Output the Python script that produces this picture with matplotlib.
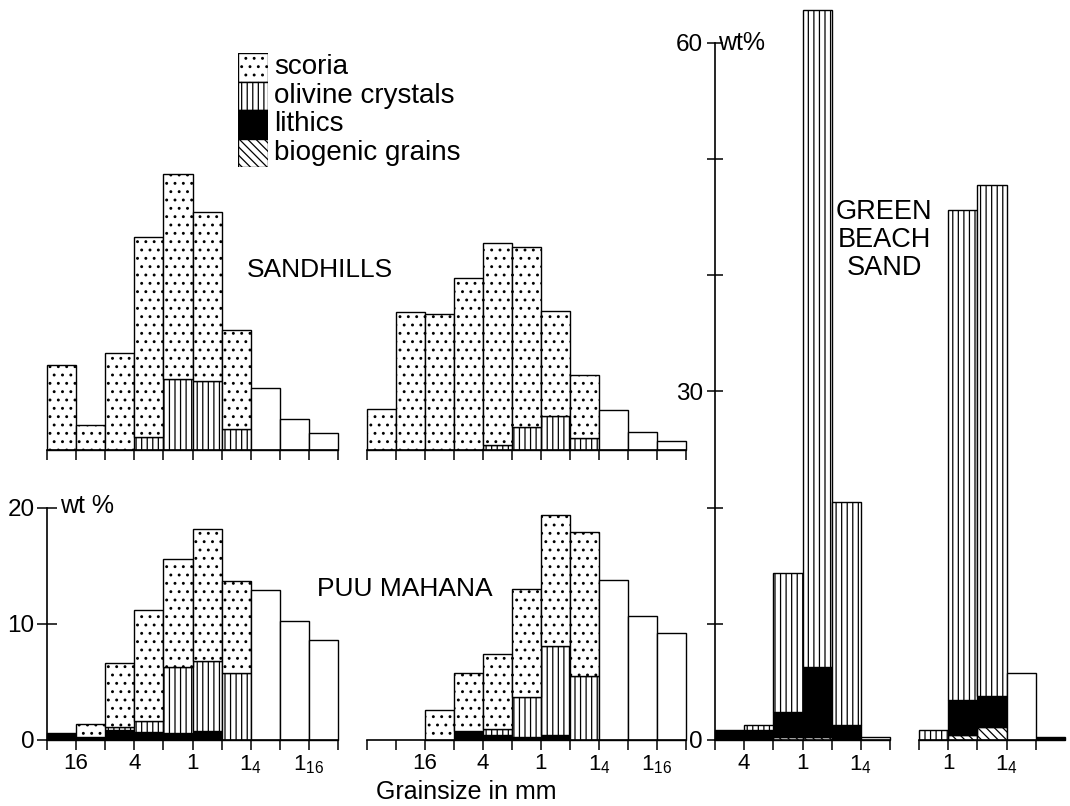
import numpy as np
import matplotlib
matplotlib.use('Agg')
import matplotlib.pyplot as plt

plt.rcParams['font.family'] = ['Liberation Sans', 'DejaVu Sans']
plt.rcParams['hatch.linewidth'] = 0.9

# each bar = one grain size class, given by phi of its coarse edge
# layers per class in wt%, bottom to top: biogenic, lithics, olivine, scoria, unsplit
sand_a_phi = [-5, -4, -3, -2, -1, 0, 1, 2, 3, 4]
sand_a_scoria = [7.3, 2.1, 8.3, 17.2, 17.6, 14.5, 8.5, 0, 0, 0]
sand_a_olivine = [0, 0, 0, 1.1, 6.1, 5.9, 1.8, 0, 0, 0]
sand_a_rest = [0, 0, 0, 0, 0, 0, 0, 5.3, 2.6, 1.4]

sand_b_phi = [-6, -5, -4, -3, -2, -1, 0, 1, 2, 3, 4]
sand_b_scoria = [3.5, 11.8, 11.7, 14.8, 17.4, 15.5, 9.0, 5.4, 0, 0, 0]
sand_b_olivine = [0, 0, 0, 0, 0.4, 1.9, 2.9, 1.0, 0, 0, 0]
sand_b_rest = [0, 0, 0, 0, 0, 0, 0, 0, 3.4, 1.5, 0.7]

puu_a_phi = [-5, -4, -3, -2, -1, 0, 1, 2, 3, 4]
puu_a_lithics = [0.6, 0.3, 0.9, 0.7, 0.6, 0.8, 0, 0, 0, 0]
puu_a_olivine = [0, 0, 0.2, 0.9, 5.7, 6.0, 5.8, 0, 0, 0]
puu_a_scoria = [0, 1.1, 5.5, 9.6, 9.3, 11.4, 7.9, 0, 0, 0]
puu_a_rest = [0, 0, 0, 0, 0, 0, 0, 12.9, 10.2, 8.6]

puu_b_phi = [-6, -5, -4, -3, -2, -1, 0, 1, 2, 3, 4]
puu_b_lithics = [0, 0, 0, 0.75, 0.45, 0.3, 0.45, 0, 0, 0, 0]
puu_b_olivine = [0, 0, 0, 0, 0.5, 3.4, 7.65, 5.5, 0, 0, 0]
puu_b_scoria = [0, 0, 2.6, 5.05, 6.45, 9.3, 11.3, 12.4, 0, 0, 0]
puu_b_rest = [0, 0, 0, 0, 0, 0, 0, 0, 13.8, 10.7, 9.2]

green_a_phi = [-3, -2, -1, 0, 1, 2]
green_a_biogenic = [0, 0, 0.3, 0.3, 0, 0]
green_a_lithics = [0.9, 0.9, 2.1, 6.0, 1.3, 0]
green_a_olivine = [0, 0.4, 12.0, 56.5, 19.2, 0]
green_a_rest = [0, 0, 0, 0, 0, 0.3]

green_b_phi = [-1, 0, 1, 2, 3]
green_b_biogenic = [0, 0.45, 1.1, 0, 0]
green_b_lithics = [0, 2.95, 2.7, 0, 0.25]
green_b_olivine = [0.9, 42.2, 44.0, 0, 0]
green_b_rest = [0, 0, 0, 5.8, 0]

legend_labels = ['scoria', 'olivine crystals', 'lithics', 'biogenic grains']

# tick labels (mm) at phi positions
tick_text = {-4: '16', -2: '4', 0: '1', 2: r'$\mathregular{1_4}$', 4: r'$\mathregular{1_{16}}$'}

W, H = 1070, 806
S = 11.62  # pixels per wt%

bio_st = dict(facecolor='white', hatch='\\\\\\\\')
lit_st = dict(facecolor='black')
oli_st = dict(facecolor='white', hatch='|||')
sco_st = dict(facecolor='white', hatch='..')
rest_st = dict(facecolor='white')

fig = plt.figure(figsize=(W / 100, H / 100), dpi=100)


def add_panel(x0, x1, base, phi0, phi1, ytop, ticks, labels=None):
    ax = fig.add_axes([x0 / W, 1 - base / H, (x1 - x0) / W, ytop * S / H])
    ax.set_xlim(phi0, phi1)
    ax.set_ylim(0, ytop)
    ax.patch.set_visible(False)
    for s in ['top', 'right', 'left']:
        ax.spines[s].set_visible(False)
    ax.spines['bottom'].set_linewidth(1.2)
    ax.set_yticks([])
    ax.set_xticks(ticks)
    if labels:
        ax.set_xticklabels([tick_text.get(t, '') if t in labels else '' for t in ticks])
    else:
        ax.set_xticklabels([])
    ax.tick_params(axis='x', direction='out', length=7, width=1.1, pad=2.5, labelsize=16)
    return ax


def draw_bars(ax, phi, layers):
    phi = np.array(phi, float)
    bottom = np.zeros(len(phi))
    for vals, st in layers:
        v = np.array(vals, float)
        m = v > 0
        if m.any():
            ax.bar(phi[m], v[m], width=1, bottom=bottom[m], align='edge',
                   edgecolor='black', linewidth=1.0, clip_on=False, **st)
        bottom += v


def y_axis(ax, top, ticks, shown, length, pad):
    ax.spines['left'].set_visible(True)
    ax.spines['left'].set_bounds(0, top)
    ax.spines['left'].set_linewidth(1.2)
    ax.set_yticks(ticks)
    ax.set_yticklabels([str(t) if t in shown else '' for t in ticks])
    ax.tick_params(axis='y', direction='inout', length=length, width=1.1, pad=pad, labelsize=17.5)


# SANDHILLS
ax = add_panel(47, 338, 449.5, -5, 5, 25, range(-5, 6))
draw_bars(ax, sand_a_phi, [(sand_a_olivine, oli_st), (sand_a_scoria, sco_st), (sand_a_rest, rest_st)])
ax = add_panel(366.7, 686, 449.5, -6, 5, 25, range(-6, 6))
draw_bars(ax, sand_b_phi, [(sand_b_olivine, oli_st), (sand_b_scoria, sco_st), (sand_b_rest, rest_st)])

# PUU MAHANA
ax = add_panel(47, 338, 740, -5, 5, 20.5, range(-5, 6), labels=[-4, -2, 0, 2, 4])
draw_bars(ax, puu_a_phi, [(puu_a_lithics, lit_st), (puu_a_olivine, oli_st),
                          (puu_a_scoria, sco_st), (puu_a_rest, rest_st)])
y_axis(ax, 20, [0, 10, 20], [0, 10, 20], 14, 2)
ax = add_panel(366.7, 686, 740, -6, 5, 20.5, range(-6, 6), labels=[-4, -2, 0, 2, 4])
draw_bars(ax, puu_b_phi, [(puu_b_lithics, lit_st), (puu_b_olivine, oli_st),
                          (puu_b_scoria, sco_st), (puu_b_rest, rest_st)])

# GREEN BEACH SAND
ax = add_panel(715, 890, 740, -3, 3, 63.5, range(-3, 4), labels=[-2, 0, 2])
draw_bars(ax, green_a_phi, [(green_a_biogenic, bio_st), (green_a_lithics, lit_st),
                            (green_a_olivine, oli_st), (green_a_rest, rest_st)])
y_axis(ax, 60, range(0, 61, 10), [0, 30, 60], 11.5, 3)
ax = add_panel(919, 1065, 740, -1, 4, 63.5, range(-1, 4), labels=[0, 2])
draw_bars(ax, green_b_phi, [(green_b_biogenic, bio_st), (green_b_lithics, lit_st),
                            (green_b_olivine, oli_st), (green_b_rest, rest_st)])

# legend box
lax = fig.add_axes([238 / W, 1 - 167 / H, 30 / W, 114 / H])
lax.set_xlim(0, 1)
lax.set_ylim(0, len(legend_labels))
lax.axis('off')
for i, (lab, st) in enumerate(zip(legend_labels, [sco_st, oli_st, lit_st, bio_st])):
    y = len(legend_labels) - 1 - i
    lax.bar(0, 1, width=1, bottom=y, align='edge', edgecolor='black', linewidth=1.0, **st)
    lax.text(1.2, y + 0.5, lab, ha='left', va='center', fontsize=20)


def ftext(x, y, s, **kw):
    fig.text(x / W, 1 - y / H, s, **kw)


ftext(320, 270, 'SANDHILLS', ha='center', va='center', fontsize=19)
ftext(405, 589, 'PUU MAHANA', ha='center', va='center', fontsize=19)
ftext(884, 240, 'GREEN\nBEACH\nSAND', ha='center', va='center', fontsize=19.5, linespacing=1.1)
ftext(466, 792, 'Grainsize in mm', ha='center', va='center', fontsize=18)
ftext(60, 506, 'wt %', ha='left', va='center', fontsize=18)
ftext(718, 43, 'wt%', ha='left', va='center', fontsize=18)

fig.savefig('out.png', dpi=100)
